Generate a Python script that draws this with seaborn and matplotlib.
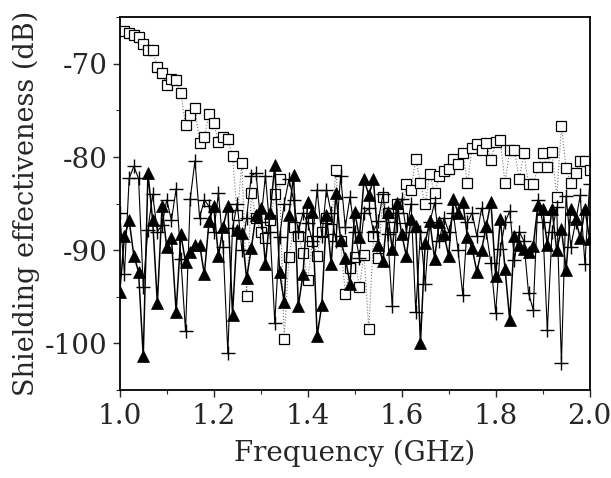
import numpy as np
import matplotlib
matplotlib.use('Agg')
import matplotlib.pyplot as plt
import seaborn as sns
from matplotlib.ticker import MultipleLocator, FormatStrFormatter

# frequency grid (GHz)
freq = np.round(np.linspace(1.0, 2.0, 101), 2)

# open squares (dotted line)
squares = [np.nan, -66.5, -66.7, -66.9, -67.1, -67.9, -68.5, -68.5, -70.3, -71.0,
           -72.3, -71.6, -71.7, -73.1, -76.6, -75.5, -74.7, -78.5, -77.9, -75.4,
           -76.4, -78.4, -77.9, -78.1, -79.9, -86.2, -80.6, -94.9, -83.9, -86.5,
           -88.0, -88.7, -86.8, -84.0, -82.4, -99.5, -90.7, -87.5, -88.5, -90.3,
           -93.2, -89.0, -90.6, -88.0, -86.5, -87.7, -81.4, -89.0, -94.7, -91.9,
           -90.7, -93.9, -90.5, -98.5, -88.5, -90.8, -84.3, -86.0, -87.5, -85.0,
           -86.5, -82.9, -83.5, -80.2, -82.8, -85.0, -81.8, -83.9, -82.0, -81.5,
           -81.3, -80.2, -80.8, -79.6, -82.8, -79.0, -78.6, -79.3, -78.5, -80.3,
           -78.4, -78.2, -82.8, -79.2, -79.2, -82.4, -79.6, -82.9, -82.9, -81.1,
           -79.6, -81.1, -79.5, -84.3, -76.7, -81.2, -82.8, -81.7, -80.4, -80.4,
           -81.4]

# plus markers (thin solid line)
plus = [-86.0, -92.5, -82.3, -81.0, -82.3, -93.9, -87.8, -84.0, -88.0, -87.3,
        -84.6, -86.8, -83.4, -90.9, -98.7, -84.5, -80.4, -86.5, -84.6, -85.3,
        -88.0, -83.9, -89.6, -101.0, -87.6, -85.0, -90.0, -86.5, -82.0, -81.7,
        -87.0, -82.0, -88.0, -97.8, -88.6, -85.0, -82.4, -84.6, -88.0, -86.0,
        -87.1, -89.0, -83.5, -88.5, -83.5, -86.0, -89.0, -82.0, -87.5, -84.3,
        -88.0, -90.8, -86.0, -85.5, -88.0, -86.9, -84.0, -88.3, -96.0, -86.0,
        -84.5, -88.0, -85.0, -96.6, -88.0, -93.6, -87.0, -84.9, -89.0, -86.5,
        -88.0, -86.0, -90.0, -94.8, -87.0, -86.0, -88.5, -85.5, -88.0, -91.4,
        -96.7, -89.9, -87.0, -85.8, -91.0, -88.0, -89.0, -94.6, -96.4, -84.6,
        -87.0, -98.6, -88.0, -85.4, -102.1, -84.2, -89.6, -87.0, -84.1, -91.5,
        -82.9]

# filled triangles (solid line)
triangles = [-94.5, -88.5, -86.8, -90.6, -92.3, -101.4, -81.7, -86.8, -95.7, -85.3,
             -89.7, -88.7, -96.6, -88.3, -91.3, -90.2, -89.4, -89.4, -92.6, -86.9,
             -85.3, -90.6, -87.5, -85.3, -96.9, -87.8, -88.2, -93.0, -89.8, -86.2,
             -85.5, -91.5, -86.0, -80.9, -92.3, -95.6, -86.2, -81.9, -96.0, -92.6,
             -84.8, -85.9, -99.2, -95.9, -86.2, -91.5, -83.9, -88.9, -90.8, -93.6,
             -85.9, -88.6, -82.4, -84.1, -82.4, -89.4, -91.2, -85.9, -89.9, -84.9,
             -88.3, -90.6, -86.6, -87.4, -99.9, -89.2, -86.9, -90.9, -87.0, -88.3,
             -90.6, -84.5, -86.0, -84.8, -88.6, -89.8, -92.3, -90.0, -87.4, -84.8,
             -92.8, -86.6, -92.0, -97.5, -88.5, -89.4, -89.9, -90.2, -89.5, -85.2,
             -85.6, -89.4, -85.6, -90.0, -87.7, -92.1, -85.6, -86.6, -88.7, -85.6,
             -88.8]

sns.set_style('ticks')
plt.rcParams['font.family'] = ['DejaVu Serif']
plt.rcParams['axes.unicode_minus'] = False

fig = plt.figure(figsize=(6.11, 4.78), dpi=100)
ax = fig.add_axes([0.196, 0.184, 0.769, 0.78])

sns.lineplot(x=freq, y=squares, ax=ax, estimator=None, color='#777777',
             linewidth=0.8, linestyle=':', marker='s', markersize=7,
             markerfacecolor='white', markeredgecolor='black',
             markeredgewidth=0.9)
sns.lineplot(x=freq, y=plus, ax=ax, estimator=None, color='black',
             linewidth=0.8, marker='+', markersize=10,
             markeredgecolor='black', markeredgewidth=1.0)
sns.lineplot(x=freq, y=triangles, ax=ax, estimator=None, color='black',
             linewidth=1.1, marker='^', markersize=9,
             markeredgecolor='black', markeredgewidth=0.5)

ax.set_xlim(1.0, 2.0)
ax.set_ylim(-105, -65)
ax.xaxis.set_major_locator(MultipleLocator(0.2))
ax.xaxis.set_minor_locator(MultipleLocator(0.1))
ax.xaxis.set_major_formatter(FormatStrFormatter('%.1f'))
ax.set_yticks([-70, -80, -90, -100])
ax.yaxis.set_minor_locator(MultipleLocator(5))
ax.yaxis.set_major_formatter(FormatStrFormatter('%d'))
ax.tick_params(which='major', direction='out', length=5, width=1, labelsize=20, pad=4)
ax.tick_params(which='minor', direction='out', length=3, width=0.8)

for s in ax.spines.values():
    s.set_linewidth(1.3)
    s.set_color('black')

ax.set_xlabel('Frequency (GHz)', fontsize=20, labelpad=7)
ax.set_ylabel('Shielding effectiveness (dB)', fontsize=19.5, labelpad=3)

fig.savefig('out.png', dpi=100)
